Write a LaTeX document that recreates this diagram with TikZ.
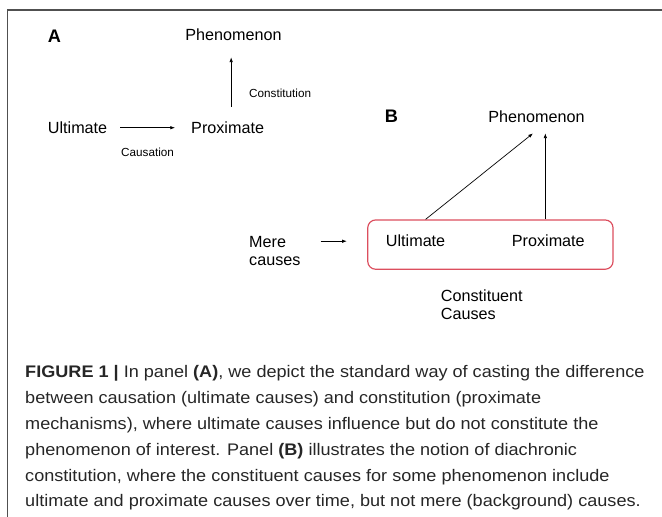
\documentclass[tikz,border=0pt]{standalone}
\usepackage{fontspec}
\setmainfont{Liberation Sans}
\newfontfamily\capfont{Liberation Sans}[FakeStretch=1.08]
\usetikzlibrary{arrows.meta,positioning,calc}
\definecolor{boxred}{RGB}{220,78,94}
\definecolor{framegray}{RGB}{80,80,80}

\begin{document}
\begin{tikzpicture}[x=0.03cm, y=-0.03cm,
    lbl/.style={inner sep=0pt, anchor=base, font=\fontsize{13.8}{15.7}\selectfont},
    small/.style={inner sep=0pt, anchor=base, font=\fontsize{10}{12}\selectfont},
    panel/.style={inner sep=0pt, anchor=base, font=\fontsize{15.5}{18}\selectfont\bfseries},
    arr/.style={-{Latex[length=4pt,width=3pt]}, line width=0.6pt}]
    \useasboundingbox (0,0) rectangle (662,517);

    % frame
    \draw[framegray, line width=1.2pt] (7.3,517) -- (7.3,10) -- (662,10);

    % panel A
    \node[panel] (labA) at (54.5,43) {A};
    \node[lbl] (phenA) at (233.5,41) {Phenomenon};
    \node[lbl, anchor=base west] (ultA) at (47.7,133.5) {Ultimate};
    \node[lbl, anchor=base west] (proxA) at (191,133.5) {Proximate};
    \draw[arr, shorten <=0.39cm, shorten >=0.48cm] (ultA.east) -- (ultA.east -| proxA.west);
    \node[small, anchor=base west] (causA) at (121,157) {Causation};
    \draw[arr, shorten <=0.45cm, shorten >=0.48cm] ([xshift=-0.07cm]proxA.north -| phenA.south) -- ([xshift=-0.07cm]phenA.south);
    \node[small, anchor=base west] (consA) at (249,97.5) {Constitution};

    % panel B
    \node[panel] (labB) at (391.5,122.5) {B};
    \node[lbl] (phenB) at (536.5,122.5) {Phenomenon};
    \node[draw=boxred, line width=1pt, rounded corners=0.24cm,
          minimum width=7.36cm, minimum height=1.48cm] (box) at (490.4,244.6) {};
    \node[lbl, anchor=base west] (ultB) at (385.7,247) {Ultimate};
    \node[lbl, anchor=base west] (proxB) at (511.7,247) {Proximate};
    \draw[arr] ([xshift=0.3cm]box.north -| ultB) -- ([xshift=-0.105cm, yshift=-0.315cm]phenB.south);
    \draw[arr] ([xshift=-0.09cm]box.north -| proxB) -- ([xshift=-0.09cm, yshift=-0.315cm]phenB.south -| proxB);

    % mere causes
    \node[lbl, anchor=base west, align=left] (mere) at (249,265.5) {Mere\\causes};
    \draw[arr, shorten <=0.6cm, shorten >=0.61cm] (mere.east |- ultB.east) -- (box.west |- ultB.east);
    \node[lbl, anchor=base west, align=left] (const) at (440.7,320) {Constituent\\Causes};

    % caption
    \node[anchor=base west, inner sep=0pt, align=left, text=black!85,
          font=\capfont\fontsize{14.3}{22.1}\selectfont] (caption) at (25,507)
        {\textbf{FIGURE 1 |} In panel \textbf{(A)}, we depict the standard way of casting the difference\\
         between causation (ultimate causes) and constitution (proximate\\
         mechanisms), where ultimate causes influence but do not constitute the\\
         phenomenon of interest. Panel \textbf{(B)} illustrates the notion of diachronic\\
         constitution, where the constituent causes for some phenomenon include\\
         ultimate and proximate causes over time, but not mere (background) causes.};
\end{tikzpicture}
\end{document}
